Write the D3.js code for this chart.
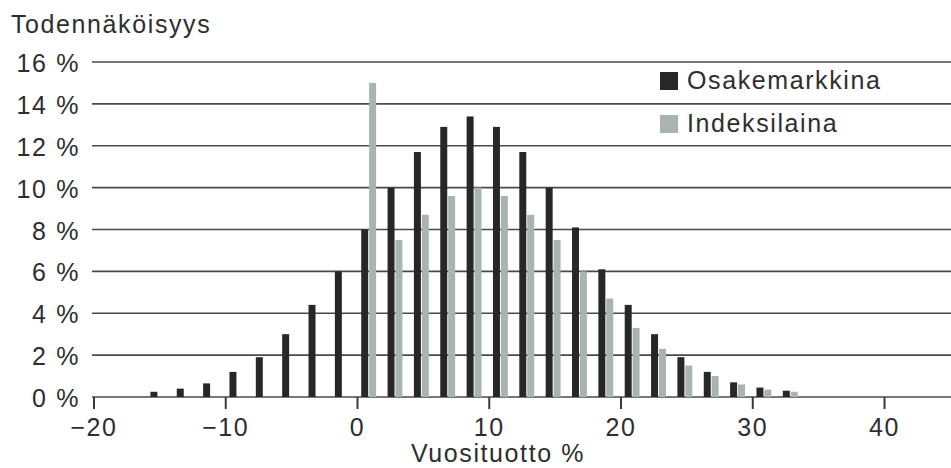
<!DOCTYPE html>
<html>
<head>
<meta charset="utf-8">
<script src="https://cdn.jsdelivr.net/npm/d3@7/dist/d3.min.js"></script>
<style>
    body { margin: 0; background: #fff; }
    text { font-family: "Liberation Sans", Arial, sans-serif; fill: #2e2e2e; letter-spacing: 1.6px; }
</style>
</head>
<body>
<div class="graph"></div>
<script>
// annual return classes (centre of each pair of bars, %)
let returns = [-15, -13, -11, -9, -7, -5, -3, -1, 1, 3, 5, 7, 9, 11, 13, 15, 17, 19, 21, 23, 25, 27, 29, 31, 33];
// probability, %
let osakemarkkina = [0.25, 0.4, 0.65, 1.2, 1.9, 3.0, 4.4, 6.0, 8.0, 10.0, 11.7, 12.9, 13.4, 12.9, 11.7, 10.0, 8.1, 6.1, 4.4, 3.0, 1.9, 1.2, 0.7, 0.45, 0.3];
let indeksilaina = [null, null, null, null, null, null, null, null, 15.0, 7.5, 8.7, 9.6, 10.0, 9.6, 8.7, 7.5, 6.0, 4.7, 3.3, 2.3, 1.5, 1.0, 0.6, 0.35, 0.25];
let seriesNames = ["Osakemarkkina", "Indeksilaina"];
let yTicks = [0, 2, 4, 6, 8, 10, 12, 14, 16];
let xTicks = [-20, -10, 0, 10, 20, 30, 40];

let width = 951, height = 468;
let colors = ["#272727", "#a9b3b0"];

let x = d3.scaleLinear().domain([-20, 40]).range([93.5, 884]);
let y = d3.scaleLinear().domain([0, 16]).range([397, 62]);

let svg = d3.select(".graph")
    .append("svg")
    .attr("width", width)
    .attr("height", height);

// title of the y axis
svg.append("text")
    .attr("x", 11)
    .attr("y", 33)
    .style("font-size", "25px")
    .text("Todennäköisyys");

// gridlines + y labels
let grid = svg.append("g").selectAll("g")
    .data(yTicks)
    .enter().append("g");

grid.append("line")
    .attr("x1", 92)
    .attr("x2", width)
    .attr("y1", d => y(d))
    .attr("y2", d => y(d))
    .attr("stroke", "#4a4a4a")
    .attr("stroke-width", 1.6);

grid.append("text")
    .attr("x", 80)
    .attr("y", d => y(d) + 10)
    .attr("text-anchor", "end")
    .style("font-size", "25px")
    .text(d => d + " %");

// bars
let rows = returns.map((r, i) => ({r: r, a: osakemarkkina[i], b: indeksilaina[i]}));

svg.append("g").selectAll("rect")
    .data(rows)
    .enter().append("rect")
    .attr("x", d => x(d.r - 0.68))
    .attr("width", d => x(d.r - 0.15) - x(d.r - 0.68))
    .attr("y", d => y(d.a))
    .attr("height", d => y(0) - y(d.a))
    .attr("fill", colors[0]);

svg.append("g").selectAll("rect")
    .data(rows.filter(d => d.b !== null))
    .enter().append("rect")
    .attr("x", d => x(d.r - 0.08))
    .attr("width", d => x(d.r + 0.45) - x(d.r - 0.08))
    .attr("y", d => y(d.b))
    .attr("height", d => y(0) - y(d.b))
    .attr("fill", colors[1]);

// x axis
let xAxis = svg.append("g")
    .attr("transform", "translate(0," + y(0) + ")")
    .call(d3.axisBottom(x).tickValues(xTicks).tickSize(12).tickFormat(d => d < 0 ? "\u2212" + Math.abs(d) : d));

xAxis.select(".domain").remove();
xAxis.selectAll(".tick line")
    .attr("stroke", "#3a3a3a")
    .attr("stroke-width", 2);
xAxis.selectAll(".tick text")
    .attr("y", 39)
    .attr("dy", 0)
    .style("font-size", "25px")
    .attr("fill", "#2e2e2e")
    .style("font-family", "Liberation Sans, Arial, sans-serif");

svg.append("text")
    .attr("x", 498)
    .attr("y", 462)
    .attr("text-anchor", "middle")
    .style("font-size", "25px")
    .text("Vuosituotto %");

// legend
let legend = svg.append("g").selectAll("g")
    .data(seriesNames)
    .enter().append("g")
    .attr("transform", (d, i) => "translate(660," + (72 + i * 43) + ")");

legend.append("rect")
    .attr("width", 18)
    .attr("height", 18)
    .attr("fill", (d, i) => colors[i]);

legend.append("text")
    .attr("x", 27)
    .attr("y", 17)
    .style("font-size", "25px")
    .text(d => d);
</script>
</body>
</html>
